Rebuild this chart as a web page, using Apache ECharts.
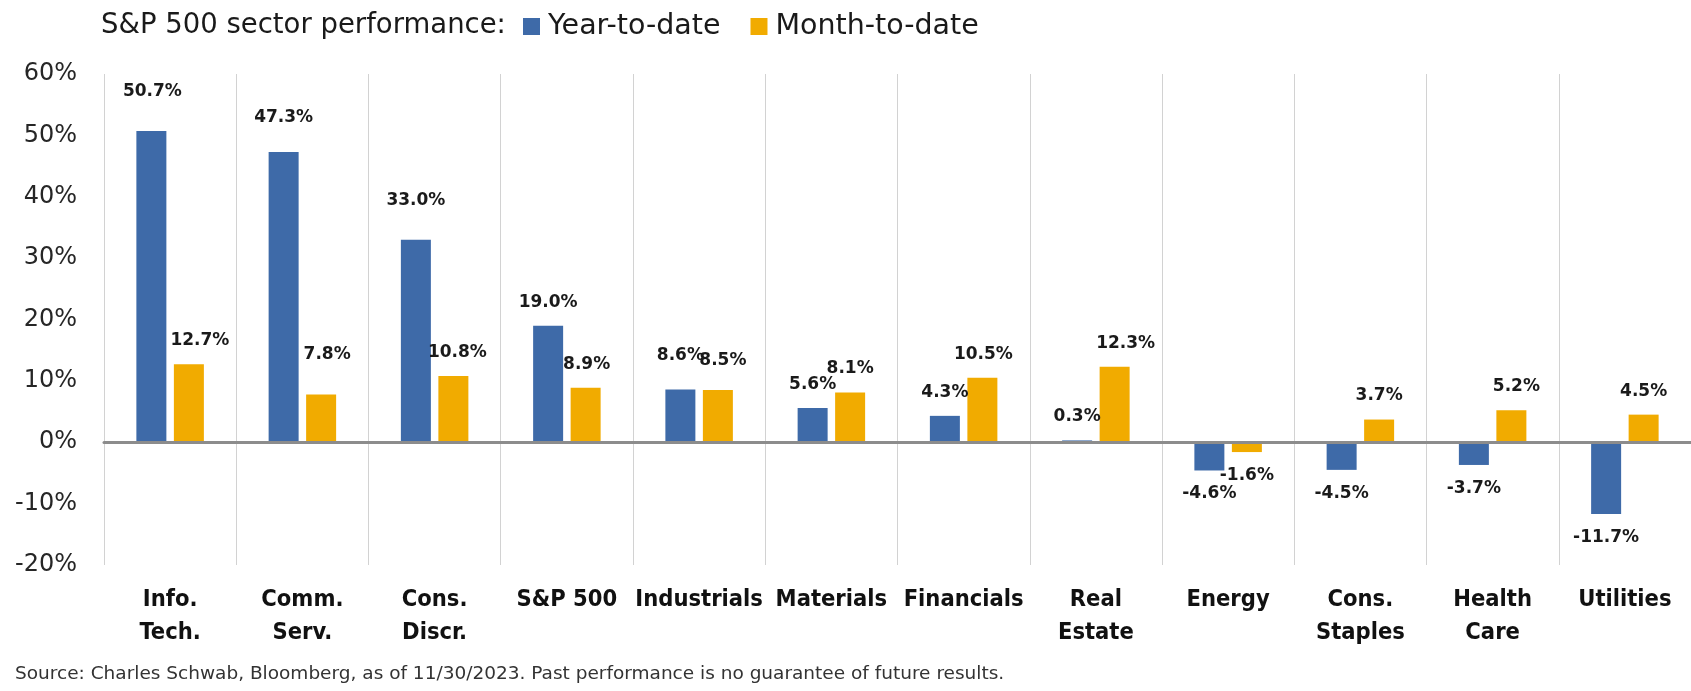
<!DOCTYPE html>
<html>
<head>
<meta charset="utf-8">
<script src="https://cdn.jsdelivr.net/npm/echarts@6/dist/echarts.min.js"></script>
<style>
html,body{margin:0;padding:0;background:#fff;}
#chart{width:1691px;height:691px;}
</style>
</head>
<body>
<div id="chart"></div>
<script>
// ---- data ----
const categories = ['Info.\nTech.', 'Comm.\nServ.', 'Cons.\nDiscr.', 'S&P 500', 'Industrials', 'Materials', 'Financials', 'Real\nEstate', 'Energy', 'Cons.\nStaples', 'Health\nCare', 'Utilities'];
const seriesNames = ['Year-to-date', 'Month-to-date'];
const ytdValues = [50.7, 47.3, 33.0, 19.0, 8.6, 5.6, 4.3, 0.3, -4.6, -4.5, -3.7, -11.7];
const mtdValues = [12.7, 7.8, 10.8, 8.9, 8.5, 8.1, 10.5, 12.3, -1.6, 3.7, 5.2, 4.5];
const yTicks = { min: -20, max: 60, interval: 10 };
const titleText = 'S&P 500 sector performance:';
const sourceText = 'Source: Charles Schwab, Bloomberg, as of 11/30/2023. Past performance is no guarantee of future results.';

// ---- label nudges (layout only, extra [dx, dy] px for hand-placed labels) ----
const ytdLabelNudge = [[1,-16],[0,-11],[0,-16],[0,0],[0,-10],[0,0],[0,0],[0,0],[0,0],[0,0],[0,0],[0,0]];
const mtdLabelNudge = [[11,0],[6,-16],[4,0],[1,0],[5,-6],[0,0],[1,0],[11,0],[0,0],[0,0],[5,0],[0,0]];

const BLUE = '#3e6aa8';
const GOLD = '#f1ab00';
const FONT = "'DejaVu Sans', sans-serif";
const CATFONT = "'DejaVu Sans Condensed', 'DejaVu Sans', sans-serif";

function buildData(values, nudges) {
  return values.map((v, i) => {
    const neg = v < 0;
    const n = nudges[i];
    return {
      value: v,
      label: {
        position: neg ? 'bottom' : 'top',
        offset: [n[0], n[1]]
      }
    };
  });
}

const labelCommon = {
  show: true,
  distance: 15,
  fontFamily: FONT,
  fontWeight: 'bold',
  fontSize: 17,
  color: '#1a1a1a',
  formatter: p => p.value.toFixed(1) + '%'
};

const chart = echarts.init(document.getElementById('chart'), null, { renderer: 'canvas' });
chart.setOption({
  animation: false,
  backgroundColor: '#ffffff',
  title: [
    {
      text: titleText,
      left: 101,
      top: 12,
      padding: 0,
      textStyle: { fontFamily: FONT, fontSize: 27.5, fontWeight: 'normal', color: '#1a1a1a' }
    },
    {
      text: sourceText,
      left: 15,
      top: 665,
      padding: 0,
      textStyle: { fontFamily: FONT, fontSize: 18.5, fontWeight: 'normal', color: '#333333' }
    }
  ],
  legend: {
    data: seriesNames,
    left: 523,
    top: 12,
    padding: 0,
    icon: 'rect',
    itemWidth: 17,
    itemHeight: 17,
    itemGap: 30,
    textStyle: { fontFamily: FONT, fontSize: 28.5, color: '#1a1a1a', padding: [0, 0, 0, 3] }
  },
  grid: { left: 104, right: 0, top: 74, bottom: 126, containLabel: false },
  xAxis: [
    {
      type: 'category',
      data: categories,
      position: 'bottom',
      axisLine: { show: false, onZero: false },
      axisTick: { show: false },
      axisLabel: {
        interval: 0,
        margin: 18,
        fontFamily: CATFONT,
        fontWeight: 'bold',
        fontSize: 23.5,
        lineHeight: 33,
        color: '#111111'
      },
      splitLine: { show: true, interval: 0, lineStyle: { color: '#d2d2d2', width: 1 } }
    },
    {
      type: 'category',
      data: categories,
      position: 'bottom',
      z: 5,
      axisLine: { show: true, onZero: true, lineStyle: { color: '#8c8c8c', width: 3 } },
      axisTick: { show: false },
      axisLabel: { show: false },
      splitLine: { show: false }
    }
  ],
  yAxis: {
    type: 'value',
    min: yTicks.min,
    max: yTicks.max,
    interval: yTicks.interval,
    axisLine: { show: false },
    axisTick: { show: false },
    splitLine: { show: false },
    axisLabel: {
      margin: 27,
      fontFamily: FONT,
      fontSize: 24,
      color: '#262626',
      formatter: '{value}%'
    }
  },
  series: [
    {
      name: seriesNames[0],
      type: 'bar',
      xAxisIndex: 0,
      barWidth: 30,
      barGap: '25%',
      itemStyle: { color: BLUE },
      label: labelCommon,
      data: buildData(ytdValues, ytdLabelNudge)
    },
    {
      name: seriesNames[1],
      type: 'bar',
      xAxisIndex: 0,
      barWidth: 30,
      barGap: '25%',
      itemStyle: { color: GOLD },
      label: labelCommon,
      data: buildData(mtdValues, mtdLabelNudge)
    }
  ]
});
</script>
</body>
</html>
